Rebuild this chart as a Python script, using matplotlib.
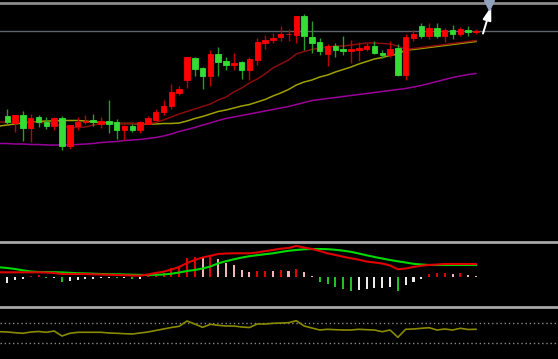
import numpy as np
import matplotlib
matplotlib.use('Agg')
import matplotlib.pyplot as plt

# daily candles (red = up, green = down)
opens = [10.68, 10.54, 10.70, 10.45, 10.66, 10.55, 10.47, 10.63, 10.09, 10.48,
         10.55, 10.59, 10.51, 10.58, 10.55, 10.40, 10.47, 10.40, 10.53, 10.61,
         10.75, 10.88, 11.14, 11.40, 11.85, 11.63, 11.47, 11.92, 11.77, 11.70,
         11.75, 11.60, 11.80, 12.13, 12.19, 12.25, 12.31, 12.30, 12.67, 12.27,
         12.15, 11.92, 12.07, 12.01, 11.98, 12.00, 12.01, 12.08, 11.95, 11.89,
         12.04, 11.49, 12.23, 12.47, 12.29, 12.45, 12.29, 12.40, 12.31, 12.39,
         12.36]
highs = [10.82, 10.70, 10.79, 10.72, 10.70, 10.65, 10.65, 10.68, 10.50, 10.65,
         10.70, 10.71, 10.65, 11.00, 10.62, 10.50, 10.52, 10.57, 10.67, 10.81,
         11.00, 11.32, 11.28, 11.86, 11.86, 11.65, 12.00, 12.05, 11.85, 11.93,
         11.77, 11.86, 12.23, 12.30, 12.34, 12.47, 12.41, 12.68, 12.72, 12.57,
         12.23, 12.12, 12.13, 12.28, 12.20, 12.16, 12.13, 12.17, 12.00, 12.17,
         12.11, 12.32, 12.40, 12.54, 12.53, 12.53, 12.45, 12.50, 12.46, 12.48,
         12.41]
lows = [10.52, 10.36, 10.17, 10.15, 10.46, 10.41, 10.40, 10.00, 10.02, 10.40,
        10.52, 10.47, 10.43, 10.33, 10.21, 10.19, 10.37, 10.35, 10.52, 10.57,
        10.70, 10.82, 11.10, 11.24, 11.48, 11.21, 11.28, 11.48, 11.59, 11.60,
        11.41, 11.39, 11.70, 12.01, 12.14, 12.17, 12.17, 12.13, 11.99, 11.95,
        11.90, 11.67, 11.85, 11.90, 11.73, 11.78, 11.97, 11.91, 11.84, 11.85,
        11.47, 11.40, 12.17, 12.23, 12.22, 12.23, 12.15, 12.21, 12.27, 12.27,
        12.32]
closes = [10.55, 10.70, 10.45, 10.65, 10.55, 10.47, 10.63, 10.09, 10.49, 10.55,
          10.58, 10.55, 10.57, 10.53, 10.40, 10.47, 10.39, 10.55, 10.63, 10.76,
          10.88, 11.16, 11.21, 11.85, 11.62, 11.47, 11.92, 11.76, 11.69, 11.75,
          11.60, 11.81, 12.15, 12.20, 12.23, 12.32, 12.32, 12.67, 12.27, 12.13,
          11.97, 12.07, 12.00, 11.97, 12.01, 12.03, 12.07, 11.95, 11.89, 12.03,
          11.49, 12.25, 12.31, 12.29, 12.45, 12.29, 12.40, 12.31, 12.41, 12.35,
          12.37]

# moving averages, first value is the day before the first visible candle
ma_short = [10.56, 10.56, 10.56, 10.56, 10.56, 10.55, 10.54, 10.52, 10.48, 10.45,
            10.45, 10.46, 10.50, 10.53, 10.53, 10.53, 10.53, 10.53, 10.53, 10.53,
            10.55, 10.60, 10.66, 10.72, 10.77, 10.82, 10.87, 10.92, 11.00, 11.06,
            11.16, 11.24, 11.34, 11.42, 11.52, 11.64, 11.72, 11.80, 11.92, 11.97,
            12.01, 12.04, 12.06, 12.08, 12.08, 12.10, 12.12, 12.14, 12.14, 12.13,
            12.12, 12.08, 12.01, 12.03, 12.05, 12.07, 12.09, 12.11, 12.13, 12.15,
            12.17, 12.19]
ma_mid = [10.48, 10.50, 10.52, 10.54, 10.56, 10.57, 10.58, 10.58, 10.59, 10.59,
          10.59, 10.58, 10.56, 10.55, 10.54, 10.53, 10.53, 10.53, 10.52, 10.52,
          10.52, 10.53, 10.53, 10.54, 10.58, 10.63, 10.67, 10.72, 10.77, 10.80,
          10.84, 10.88, 10.91, 10.96, 11.01, 11.08, 11.14, 11.21, 11.30, 11.36,
          11.40, 11.46, 11.50, 11.56, 11.61, 11.66, 11.72, 11.77, 11.82, 11.85,
          11.89, 11.92, 12.00, 12.01, 12.03, 12.05, 12.07, 12.09, 12.11, 12.13,
          12.15, 12.17]
ma_long = [10.13, 10.13, 10.12, 10.12, 10.11, 10.11, 10.10, 10.10, 10.10, 10.10,
           10.11, 10.12, 10.13, 10.15, 10.16, 10.17, 10.19, 10.20, 10.21, 10.23,
           10.25, 10.28, 10.32, 10.37, 10.41, 10.45, 10.50, 10.54, 10.59, 10.63,
           10.66, 10.69, 10.72, 10.75, 10.78, 10.81, 10.84, 10.87, 10.91, 10.95,
           10.99, 11.01, 11.03, 11.05, 11.07, 11.09, 11.11, 11.13, 11.15, 11.17,
           11.19, 11.21, 11.23, 11.26, 11.29, 11.33, 11.37, 11.41, 11.45, 11.48,
           11.51, 11.53]
price_level = 12.38

# MACD
dif = [0.044, 0.044, 0.044, 0.044, 0.044, 0.044, 0.042, 0.037, 0.027, 0.027,
       0.027, 0.027, 0.024, 0.022, 0.020, 0.017, 0.015, 0.012, 0.010, 0.022,
       0.037, 0.050, 0.072, 0.097, 0.137, 0.167, 0.192, 0.209, 0.227, 0.232,
       0.234, 0.234, 0.234, 0.242, 0.255, 0.267, 0.280, 0.287, 0.307, 0.292,
       0.277, 0.257, 0.234, 0.217, 0.200, 0.184, 0.170, 0.152, 0.142, 0.132,
       0.112, 0.074, 0.082, 0.097, 0.110, 0.117, 0.122, 0.127, 0.127, 0.127,
       0.127, 0.127]
dea = [0.094, 0.087, 0.077, 0.064, 0.052, 0.047, 0.047, 0.045, 0.043, 0.039,
       0.035, 0.033, 0.030, 0.027, 0.025, 0.024, 0.022, 0.020, 0.018, 0.017,
       0.019, 0.022, 0.030, 0.042, 0.057, 0.067, 0.082, 0.102, 0.134, 0.155,
       0.174, 0.191, 0.205, 0.215, 0.225, 0.234, 0.247, 0.259, 0.267, 0.274,
       0.277, 0.277, 0.275, 0.269, 0.260, 0.249, 0.232, 0.214, 0.197, 0.182,
       0.167, 0.154, 0.142, 0.129, 0.122, 0.117, 0.117, 0.117, 0.117, 0.117,
       0.117, 0.117]
macd_hist = [-0.063, -0.035, -0.025, 0.007, 0.015, -0.010, -0.008, -0.050, -0.045, -0.035,
             -0.023, -0.022, -0.013, -0.012, -0.0135, -0.0125, -0.025, -0.020, 0.003, 0.010,
             0.033, 0.083, 0.107, 0.183, 0.200, 0.183, 0.200, 0.173, 0.140, 0.117,
             0.067, 0.050, 0.058, 0.062, 0.060, 0.067, 0.060, 0.077, 0.050, 0.007,
             -0.050, -0.073, -0.107, -0.127, -0.140, -0.133, -0.118, -0.116, -0.114, -0.100,
             -0.140, -0.083, -0.050, -0.020, 0.023, 0.033, 0.040, 0.032, 0.034, 0.017,
             0.007]

# oscillator in the bottom pane
osc = [54.9, 54.0, 51.9, 50.1, 54.0, 55.5, 53.1, 57.0, 42.0, 50.1,
       53.1, 53.1, 53.1, 53.1, 51.0, 50.1, 48.9, 48.0, 51.0, 54.0,
       58.5, 63.0, 67.5, 71.1, 87.0, 78.0, 68.1, 77.1, 74.1, 72.0,
       72.0, 69.0, 67.5, 78.0, 78.0, 80.1, 81.0, 81.9, 87.9, 72.0,
       66.0, 60.0, 62.1, 60.9, 60.0, 60.0, 62.1, 60.9, 60.0, 54.9,
       60.0, 38.1, 62.1, 63.0, 65.1, 66.9, 60.0, 63.0, 60.0, 65.1,
       61.5, 62.1]
osc_levels = [20, 80]

RED = '#ff0000'
GREEN = '#34dc34'
SEP = '#a8a8a8'

o = np.array(opens)
c = np.array(closes)
h = np.array(highs)
l = np.array(lows)
x = np.arange(len(o))
xl = np.arange(-1, len(o))
up = c >= o

W, H = 558, 359
fig = plt.figure(figsize=(W / 100, H / 100), dpi=100, facecolor='black')
ax = fig.add_axes([0, 1 - 242 / H, 1, 239 / H])
ax2 = fig.add_axes([0, 1 - 307 / H, 1, 65 / H])
ax3 = fig.add_axes([0, 0, 1, 52 / H])

for a in (ax, ax2, ax3):
    a.set_facecolor('black')
    a.set_xticks([])
    a.set_yticks([])
    for s in ('left', 'right', 'bottom'):
        a.spines[s].set_visible(False)
    a.spines['top'].set_color(SEP)
    a.spines['top'].set_linewidth(2)
    a.set_xlim(-0.935, 70.5)
ax.spines['top'].set_color('#8c8c8c')

# price pane
ax.set_ylim(8.16, 12.94)
ax.axhline(price_level, color='#5e626c', lw=1, zorder=1)
ax.plot(xl, ma_long, color='#9a009a', lw=1.1, zorder=2)
ax.plot(xl, ma_mid, color='#a0a000', lw=1.1, zorder=2)
ax.plot(xl, ma_short, color='#8a0c0c', lw=1.1, zorder=2)

wick_col = np.where(up, '#c00000', '#2a9a2a')
ax.vlines(x, l, h, colors=wick_col, lw=1, zorder=3)
body_col = np.where(up, RED, GREEN)
ax.bar(x, np.abs(c - o), bottom=np.minimum(o, c), width=0.7,
       color=body_col, edgecolor=body_col, lw=0.6, zorder=4)

# cursor marker at top right
ax.annotate('', xy=(61.95, 12.87), xytext=(60.9, 12.33),
            arrowprops=dict(arrowstyle='-|>,head_length=0.8,head_width=0.25',
                            color='white', lw=1.4, shrinkA=0, shrinkB=0))
ax.plot([61.65], [12.905], marker='v', ms=6.5, color='#8fa3bf', clip_on=False, zorder=6)

# MACD pane
ax2.set_ylim(-0.303, 0.347)
hist = np.array(macd_hist)
rising = np.diff(hist, prepend=hist[0]) >= 0
hcol = np.where(hist >= 0, np.where(rising, '#e00000', '#f2b4b4'),
                np.where(rising, '#ececec', '#22c022'))
ax2.bar(x, hist, width=0.26, color=hcol, zorder=2)
ax2.plot(xl, dea, color='#00d800', lw=1.5, zorder=3)
ax2.plot(xl, dif, color='#e00000', lw=1.5, zorder=3)

# bottom pane
ax3.set_ylim(-27, 129)
for lv in osc_levels:
    ax3.axhline(lv, color='#8a8a8a', lw=1, ls=(0, (1, 2)))
ax3.plot(xl, osc, color='#8a8a00', lw=1.2)

fig.savefig('out.png', dpi=100, facecolor='black')
